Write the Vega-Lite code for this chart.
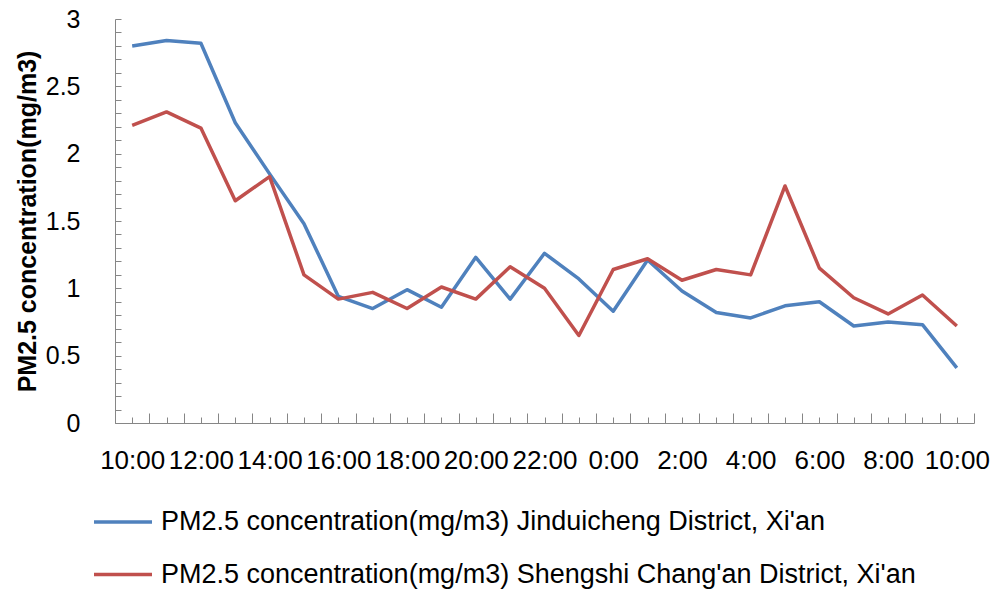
{
  "$schema": "https://vega.github.io/schema/vega-lite/v6.json",
  "description": "PM2.5 concentration over 24 hours at two Xi'an sites",
  "autosize": {"type": "none"},
  "width": 859,
  "height": 404,
  "padding": {"left": 115, "top": 19, "right": 20, "bottom": 168},
  "config": {
    "view": {"stroke": null},
    "font": "Liberation Sans",
    "axis": {"domainColor": "#868686", "tickColor": "#868686", "labelColor": "#000000", "grid": false, "labelFont": "Liberation Sans"}
  },
  "data": {
    "values": [
      {"hour": 0, "site": "Jinduicheng", "pm": 2.80},
      {"hour": 1, "site": "Jinduicheng", "pm": 2.84},
      {"hour": 2, "site": "Jinduicheng", "pm": 2.82},
      {"hour": 3, "site": "Jinduicheng", "pm": 2.23},
      {"hour": 4, "site": "Jinduicheng", "pm": 1.85},
      {"hour": 5, "site": "Jinduicheng", "pm": 1.48},
      {"hour": 6, "site": "Jinduicheng", "pm": 0.94},
      {"hour": 7, "site": "Jinduicheng", "pm": 0.85},
      {"hour": 8, "site": "Jinduicheng", "pm": 0.99},
      {"hour": 9, "site": "Jinduicheng", "pm": 0.86},
      {"hour": 10, "site": "Jinduicheng", "pm": 1.23},
      {"hour": 11, "site": "Jinduicheng", "pm": 0.92},
      {"hour": 12, "site": "Jinduicheng", "pm": 1.26},
      {"hour": 13, "site": "Jinduicheng", "pm": 1.07},
      {"hour": 14, "site": "Jinduicheng", "pm": 0.83},
      {"hour": 15, "site": "Jinduicheng", "pm": 1.21},
      {"hour": 16, "site": "Jinduicheng", "pm": 0.98},
      {"hour": 17, "site": "Jinduicheng", "pm": 0.82},
      {"hour": 18, "site": "Jinduicheng", "pm": 0.78},
      {"hour": 19, "site": "Jinduicheng", "pm": 0.87},
      {"hour": 20, "site": "Jinduicheng", "pm": 0.90},
      {"hour": 21, "site": "Jinduicheng", "pm": 0.72},
      {"hour": 22, "site": "Jinduicheng", "pm": 0.75},
      {"hour": 23, "site": "Jinduicheng", "pm": 0.73},
      {"hour": 24, "site": "Jinduicheng", "pm": 0.41},
      {"hour": 0, "site": "Shengshi", "pm": 2.21},
      {"hour": 1, "site": "Shengshi", "pm": 2.31},
      {"hour": 2, "site": "Shengshi", "pm": 2.19},
      {"hour": 3, "site": "Shengshi", "pm": 1.65},
      {"hour": 4, "site": "Shengshi", "pm": 1.83},
      {"hour": 5, "site": "Shengshi", "pm": 1.10},
      {"hour": 6, "site": "Shengshi", "pm": 0.92},
      {"hour": 7, "site": "Shengshi", "pm": 0.97},
      {"hour": 8, "site": "Shengshi", "pm": 0.85},
      {"hour": 9, "site": "Shengshi", "pm": 1.01},
      {"hour": 10, "site": "Shengshi", "pm": 0.92},
      {"hour": 11, "site": "Shengshi", "pm": 1.16},
      {"hour": 12, "site": "Shengshi", "pm": 1.00},
      {"hour": 13, "site": "Shengshi", "pm": 0.65},
      {"hour": 14, "site": "Shengshi", "pm": 1.14},
      {"hour": 15, "site": "Shengshi", "pm": 1.22},
      {"hour": 16, "site": "Shengshi", "pm": 1.06},
      {"hour": 17, "site": "Shengshi", "pm": 1.14},
      {"hour": 18, "site": "Shengshi", "pm": 1.10},
      {"hour": 19, "site": "Shengshi", "pm": 1.76},
      {"hour": 20, "site": "Shengshi", "pm": 1.15},
      {"hour": 21, "site": "Shengshi", "pm": 0.93},
      {"hour": 22, "site": "Shengshi", "pm": 0.81},
      {"hour": 23, "site": "Shengshi", "pm": 0.95},
      {"hour": 24, "site": "Shengshi", "pm": 0.72}
    ]
  },
  "mark": {"type": "line", "strokeWidth": 3.5, "strokeJoin": "round"},
  "encoding": {
    "x": {
      "field": "hour",
      "type": "quantitative",
      "scale": {"domain": [-0.5, 24.5], "nice": false, "zero": false},
      "axis": {
        "title": null,
        "values": [-0.5, 0, 0.5, 1, 1.5, 2, 2.5, 3, 3.5, 4, 4.5, 5, 5.5, 6, 6.5, 7, 7.5, 8, 8.5, 9, 9.5, 10, 10.5, 11, 11.5, 12, 12.5, 13, 13.5, 14, 14.5, 15, 15.5, 16, 16.5, 17, 17.5, 18, 18.5, 19, 19.5, 20, 20.5, 21, 21.5, 22, 22.5, 23, 23.5, 24, 24.5],
        "labelExpr": "datum.value % 2 == 0 ? ((datum.value + 10) % 24) + ':00' : ''",
        "labelOverlap": false,
        "labelFontSize": 26,
        "labelPadding": 30,
        "tickSize": {"condition": {"test": "datum.value % 1 != 0", "value": -10}, "value": -6}
      }
    },
    "y": {
      "field": "pm",
      "type": "quantitative",
      "scale": {"domain": [0, 3], "nice": false},
      "axis": {
        "title": "PM2.5 concentration(mg/m3)",
        "titleFontSize": 25,
        "titleFontWeight": "bold",
        "titleFont": "Liberation Sans",
        "titleX": -88,
        "titleY": 202,
        "titleAngle": -90,
        "titleAlign": "center",
        "titleBaseline": "middle",
        "values": [0, 0.1, 0.2, 0.3, 0.4, 0.5, 0.6, 0.7, 0.8, 0.9, 1, 1.1, 1.2, 1.3, 1.4, 1.5, 1.6, 1.7, 1.8, 1.9, 2, 2.1, 2.2, 2.3, 2.4, 2.5, 2.6, 2.7, 2.8, 2.9, 3],
        "labelExpr": "round(datum.value * 10) % 5 == 0 ? toString(round(datum.value * 10) / 10) : ''",
        "labelFontSize": 25,
        "tickSize": -6,
        "labelPadding": 41
      }
    },
    "color": {
      "field": "site",
      "type": "nominal",
      "scale": {"domain": ["Jinduicheng", "Shengshi"], "range": ["#4F81BD", "#C0504D"]},
      "legend": {
        "title": null,
        "orient": "none",
        "legendX": -23,
        "legendY": 472,
        "symbolType": "stroke",
        "symbolSize": 3364,
        "symbolStrokeWidth": 3.5,
        "labelFontSize": 27,
        "labelOffset": 7,
        "labelLimit": 0,
        "rowPadding": 8.5,
        "labelExpr": "datum.value == 'Jinduicheng' ? \"PM2.5 concentration(mg/m3) Jinduicheng District, Xi'an\" : \"PM2.5 concentration(mg/m3) Shengshi Chang'an District, Xi'an\""
      }
    }
  }
}
